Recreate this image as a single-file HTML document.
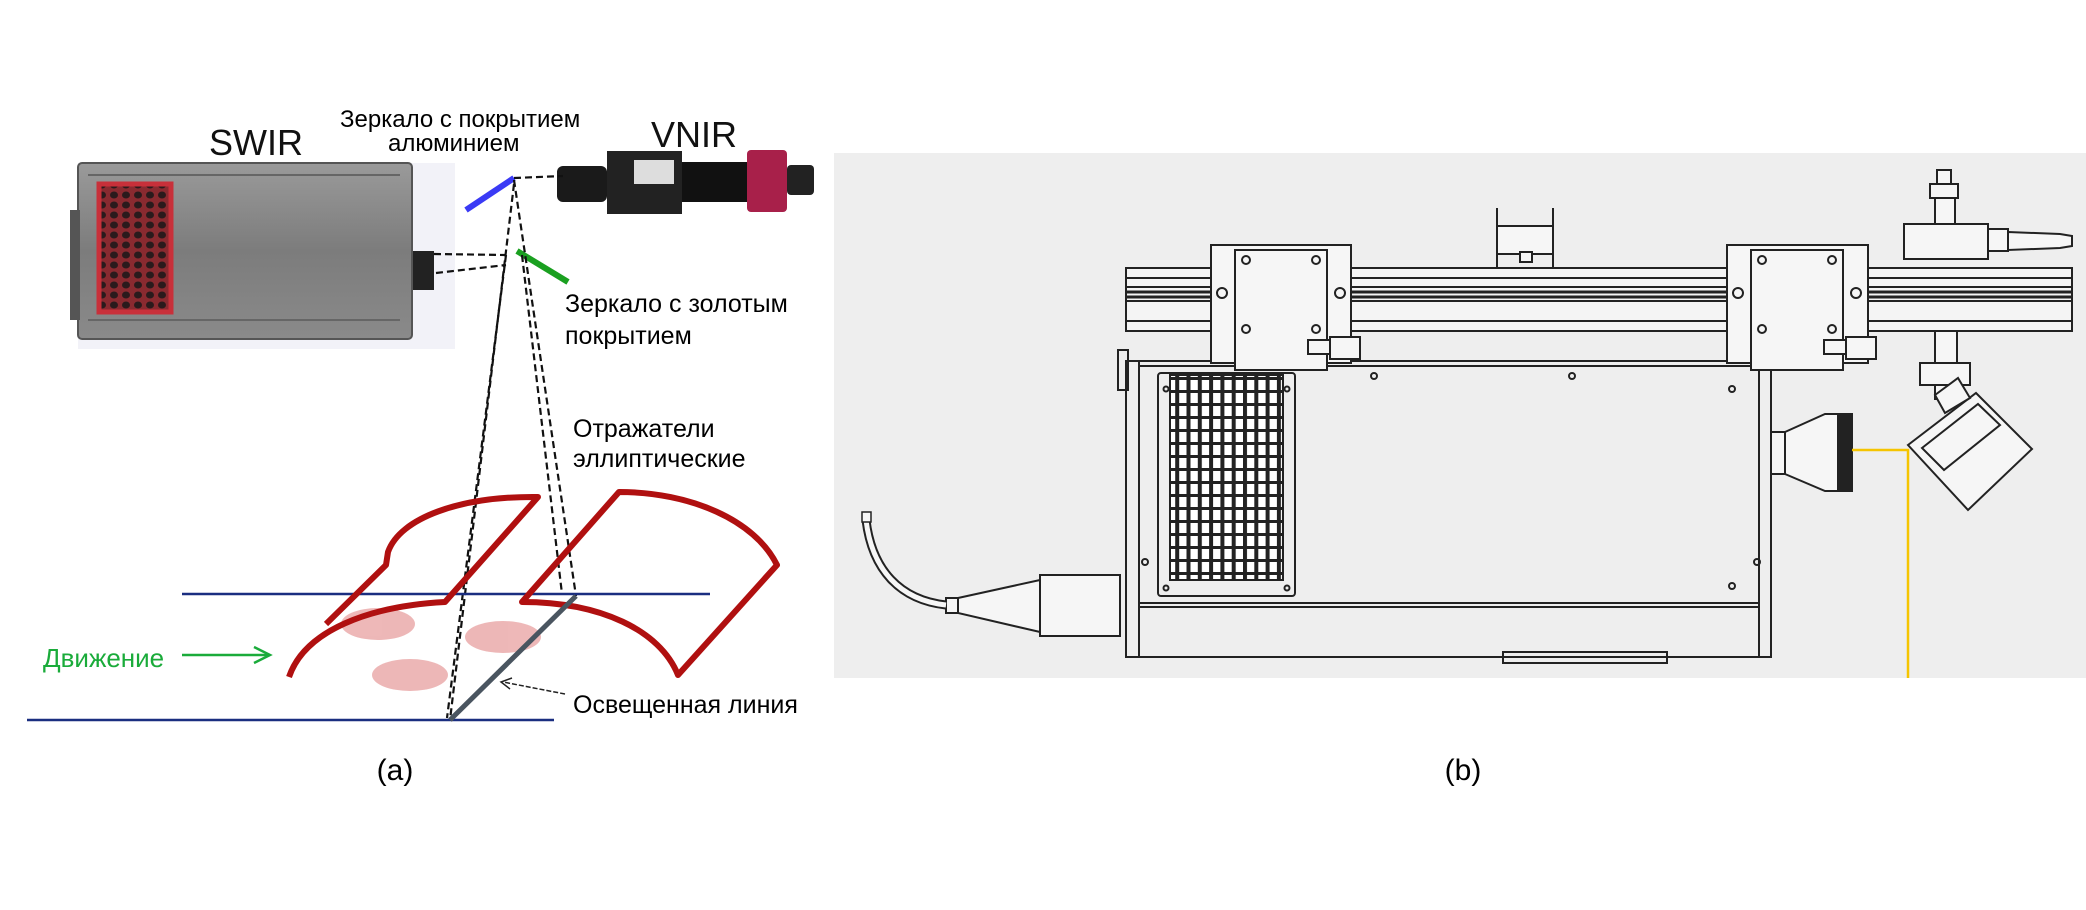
<!DOCTYPE html>
<html><head><meta charset="utf-8"><style>
html,body{margin:0;padding:0;background:#fff;}
svg{display:block;}
text{font-family:"Liberation Sans",sans-serif;}
</style></head><body>
<svg width="2086" height="910" viewBox="0 0 2086 910" xmlns="http://www.w3.org/2000/svg">
<defs>
<linearGradient id="gb" x1="0" y1="0" x2="0" y2="1">
<stop offset="0" stop-color="#9a9a9a"/><stop offset="0.5" stop-color="#7c7c7c"/><stop offset="1" stop-color="#8a8a8a"/>
</linearGradient>
<pattern id="hex" width="12" height="10" patternUnits="userSpaceOnUse">
<rect width="12" height="10" fill="#8a2a30"/>
<ellipse cx="6" cy="5" rx="4" ry="3.5" fill="#2a1a1c"/>
</pattern>
<pattern id="grid" width="11.3" height="13" patternUnits="userSpaceOnUse">
<rect width="11.3" height="13" fill="#fff"/>
<rect x="0" y="0" width="4" height="13" fill="#222"/>
<rect x="0" y="0" width="11.3" height="3" fill="#222"/>
</pattern>
</defs>

<!-- ===== Panel (a) ===== -->
<rect x="78" y="163" width="377" height="186" fill="#f2f2f8"/>
<rect x="78" y="163" width="334" height="176" rx="4" fill="url(#gb)" stroke="#555" stroke-width="2"/>
<rect x="70" y="210" width="10" height="110" fill="#555"/>
<line x1="88" y1="175" x2="400" y2="175" stroke="#666" stroke-width="2"/>
<line x1="88" y1="320" x2="400" y2="320" stroke="#666" stroke-width="2"/>
<rect x="99" y="184" width="72" height="128" fill="url(#hex)" stroke="#c8303a" stroke-width="5"/>
<rect x="413" y="251" width="21" height="39" fill="#222"/>
<text x="209" y="155" font-size="36" fill="#111">SWIR</text>

<text x="340" y="127" font-size="24" fill="#000">Зеркало с покрытием</text>
<text x="388" y="151" font-size="24" fill="#000">алюминием</text>
<text x="651" y="147" font-size="36" fill="#111">VNIR</text>

<!-- VNIR camera -->
<rect x="557" y="166" width="50" height="36" rx="6" fill="#1a1a1a"/>
<rect x="607" y="151" width="75" height="63" fill="#222"/>
<rect x="634" y="160" width="40" height="24" fill="#ddd"/>
<rect x="682" y="162" width="65" height="40" fill="#111"/>
<rect x="747" y="150" width="40" height="62" rx="4" fill="#a8204a"/>
<rect x="787" y="165" width="27" height="30" rx="4" fill="#222"/>

<!-- mirrors -->
<line x1="466" y1="210" x2="514" y2="178" stroke="#3a3af5" stroke-width="6"/>
<line x1="517" y1="251" x2="568" y2="282" stroke="#1aa020" stroke-width="6"/>

<!-- dashed beams -->
<g stroke="#111" stroke-width="2.2" stroke-dasharray="7,4" fill="none">
<line x1="514" y1="178" x2="563" y2="176"/>
<line x1="434" y1="254" x2="506" y2="255"/>
<line x1="436" y1="273" x2="506" y2="265"/>
<line x1="514" y1="180" x2="576" y2="596"/>
<line x1="514" y1="184" x2="450" y2="720"/>
<line x1="506" y1="255" x2="447" y2="718"/>
<line x1="522" y1="255" x2="562" y2="594"/>
</g>

<text x="565" y="312" font-size="25" fill="#000">Зеркало с золотым</text>
<text x="565" y="344" font-size="25" fill="#000">покрытием</text>
<text x="573" y="437" font-size="25" fill="#000">Отражатели</text>
<text x="573" y="467" font-size="25" fill="#000">эллиптические</text>

<!-- conveyor lines -->
<line x1="182" y1="594" x2="710" y2="594" stroke="#1a2e80" stroke-width="2.5"/>
<line x1="27" y1="720" x2="554" y2="720" stroke="#1a2e80" stroke-width="2.5"/>

<!-- pink spots -->
<g fill="#e8a0a0" opacity="0.75">
<ellipse cx="378" cy="624" rx="37" ry="16"/>
<ellipse cx="503" cy="637" rx="38" ry="16"/>
<ellipse cx="410" cy="675" rx="38" ry="16"/>
</g>

<!-- reflectors -->
<g fill="none" stroke="#b01010" stroke-width="6" stroke-linejoin="round">
<path d="M289,677 C305,630 370,606 445,602 L538,497 C460,496 400,518 388,552 L386,565 L326,624"/>
<path d="M522,602 L619,492 C690,492 755,520 777,565 L678,675 C660,630 600,602 522,602 Z"/>
</g>

<!-- illuminated line -->
<line x1="450" y1="720" x2="576" y2="596" stroke="#4a5560" stroke-width="5"/>

<text x="43" y="667" font-size="26" fill="#1aab3a">Движение</text>
<line x1="182" y1="655" x2="268" y2="655" stroke="#1aab3a" stroke-width="2.5"/>
<path d="M254,647 L270,655 L254,663" fill="none" stroke="#1aab3a" stroke-width="2.5"/>

<text x="573" y="713" font-size="25" fill="#000">Освещенная линия</text>
<line x1="565" y1="694" x2="503" y2="682" stroke="#222" stroke-width="1.5" stroke-dasharray="5,2"/>
<path d="M512,678 L501,682 L510,689" fill="none" stroke="#222" stroke-width="1.5"/>

<text x="395" y="780" font-size="30" fill="#000" text-anchor="middle">(a)</text>

<!-- ===== Panel (b) ===== -->
<rect x="834" y="153" width="1252" height="525" fill="#eeeeee"/>
<g fill="none" stroke="#222" stroke-width="2">
<!-- main body -->
<rect x="1126" y="361" width="645" height="296"/>
<line x1="1139" y1="361" x2="1139" y2="657"/>
<line x1="1759" y1="361" x2="1759" y2="657"/>
<line x1="1139" y1="366" x2="1759" y2="366"/>
<line x1="1139" y1="603" x2="1759" y2="603"/>
<line x1="1139" y1="607" x2="1759" y2="607"/>
<rect x="1503" y="652" width="164" height="11"/>
<rect x="1118" y="350" width="10" height="40"/>
<!-- grille frame -->
<rect x="1158" y="373" width="137" height="223" rx="3"/>
<circle cx="1166" cy="389" r="2.5"/><circle cx="1287" cy="389" r="2.5"/>
<circle cx="1166" cy="588" r="2.5"/><circle cx="1287" cy="588" r="2.5"/>
<circle cx="1374" cy="376" r="3"/><circle cx="1572" cy="376" r="3"/>
<circle cx="1732" cy="389" r="3"/><circle cx="1732" cy="586" r="3"/>
<circle cx="1145" cy="562" r="3"/><circle cx="1757" cy="562" r="3"/>
</g>
<rect x="1170" y="375" width="113" height="205" fill="url(#grid)" stroke="#222" stroke-width="2"/>

<!-- rail -->
<g stroke="#222" stroke-width="2">
<rect x="1126" y="268" width="946" height="63" fill="#f4f4f4"/>
<line x1="1126" y1="278" x2="2072" y2="278"/>
<line x1="1126" y1="321" x2="2072" y2="321"/>
<rect x="1126" y="287" width="946" height="14" fill="#f4f4f4"/>
<line x1="1126" y1="292" x2="2072" y2="292" stroke-width="3"/>
<line x1="1126" y1="297" x2="2072" y2="297" stroke-width="3"/>
</g>

<!-- blocks -->
<g fill="#f6f6f6" stroke="#222" stroke-width="2">
<rect x="1211" y="245" width="140" height="118"/>
<rect x="1235" y="250" width="92" height="120"/>
<rect x="1727" y="245" width="141" height="118"/>
<rect x="1751" y="250" width="92" height="120"/>
<!-- small connectors -->
<rect x="1308" y="340" width="22" height="14"/><rect x="1330" y="337" width="30" height="22"/>
<rect x="1824" y="340" width="22" height="14"/><rect x="1846" y="337" width="30" height="22"/>
<!-- top bracket -->
<rect x="1497" y="226" width="56" height="28"/>
<line x1="1497" y1="208" x2="1497" y2="268"/><line x1="1553" y1="208" x2="1553" y2="268"/>
<rect x="1520" y="252" width="12" height="10"/>
</g>
<g fill="none" stroke="#222" stroke-width="2">
<circle cx="1246" cy="260" r="4"/><circle cx="1316" cy="260" r="4"/>
<circle cx="1246" cy="329" r="4"/><circle cx="1316" cy="329" r="4"/>
<circle cx="1222" cy="293" r="5"/><circle cx="1340" cy="293" r="5"/>
<circle cx="1762" cy="260" r="4"/><circle cx="1832" cy="260" r="4"/>
<circle cx="1762" cy="329" r="4"/><circle cx="1832" cy="329" r="4"/>
<circle cx="1738" cy="293" r="5"/><circle cx="1856" cy="293" r="5"/>
</g>

<!-- right post & fittings -->
<g fill="#f6f6f6" stroke="#222" stroke-width="2">
<rect x="1937" y="170" width="14" height="14"/>
<rect x="1930" y="184" width="28" height="14"/>
<rect x="1935" y="198" width="20" height="26"/>
<rect x="1904" y="224" width="84" height="35"/>
<rect x="1988" y="229" width="20" height="22"/>
<path d="M2008,232 L2060,234 L2072,236 L2072,246 L2060,248 L2008,250 Z"/>
<rect x="1935" y="331" width="22" height="32"/>
<rect x="1920" y="363" width="50" height="22"/>
<rect x="1935" y="385" width="18" height="14"/>
<!-- lens on body -->
<rect x="1771" y="432" width="14" height="42"/>
<path d="M1785,432 L1825,414 L1852,414 L1852,491 L1825,491 L1785,474 Z"/>
<rect x="1838" y="414" width="14" height="77" fill="#222"/>
<!-- tilted mount -->
<path d="M1908,445 L1976,393 L2032,449 L1968,510 Z"/>
<path d="M1922,448 L1978,404 L2000,425 L1944,470 Z"/>
<path d="M1935,395 L1958,378 L1970,398 L1945,413 Z"/>
</g>
<!-- left connector + cable -->
<g fill="#f6f6f6" stroke="#222" stroke-width="2">
<path d="M958,598 L1040,580 L1040,632 L958,613 Z"/>
<rect x="1040" y="575" width="80" height="61"/>
<rect x="946" y="598" width="12" height="15"/>
</g>
<path d="M946,605 C900,600 872,570 866,520" fill="none" stroke="#222" stroke-width="9"/>
<path d="M946,605 C900,600 872,570 866,520" fill="none" stroke="#f6f6f6" stroke-width="5"/>
<rect x="862" y="512" width="9" height="10" fill="#f6f6f6" stroke="#222" stroke-width="1.5"/>

<!-- yellow light path -->
<polyline points="1852,450 1908,450 1908,678" fill="none" stroke="#f5c400" stroke-width="2.5"/>

<text x="1463" y="780" font-size="30" fill="#000" text-anchor="middle">(b)</text>
</svg>
</body></html>
